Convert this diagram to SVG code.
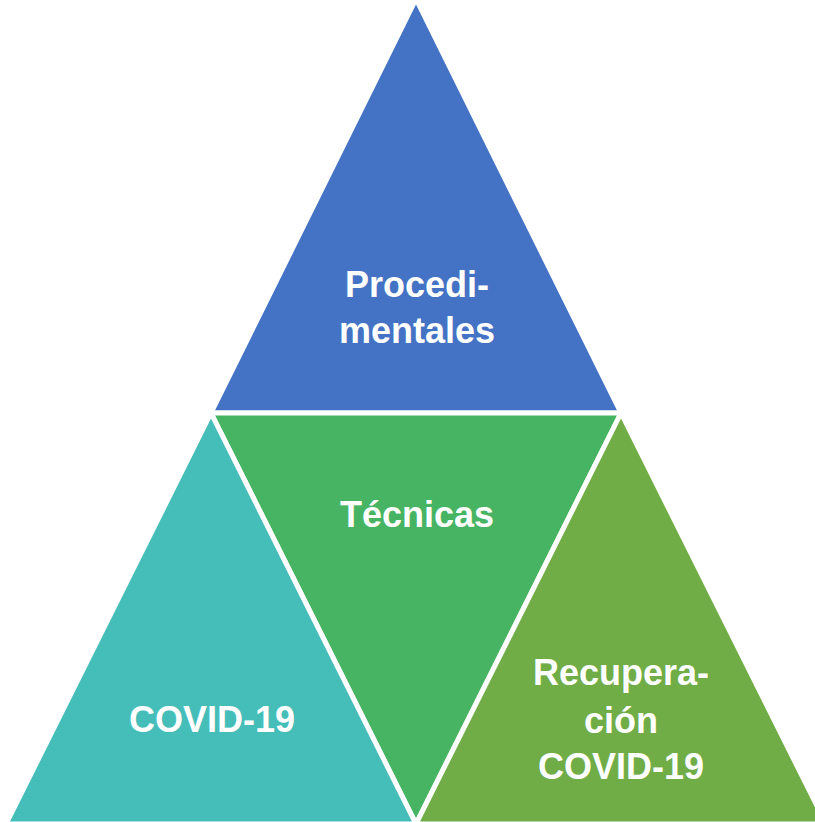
<svg xmlns="http://www.w3.org/2000/svg" width="815" height="822" viewBox="0 0 815 822">
<style>
.tri{stroke:#fff;stroke-width:5;stroke-linejoin:miter}
.lbl{font-family:"Liberation Sans",Arial,sans-serif;font-weight:bold;font-size:36px;fill:#fff;text-anchor:middle}
</style>
<rect width="815" height="822" fill="#fff"/>
<g id="top">
<polygon class="tri" fill="#4472C4" points="416,-1 211,413 621,413"/>
<text class="lbl" x="417" y="297">Procedi-</text>
<text class="lbl" x="417" y="343">mentales</text>
</g>
<g id="middle">
<polygon class="tri" fill="#47B464" points="211,413 621,413 416,824"/>
<text class="lbl" x="417" y="527">Técnicas</text>
</g>
<g id="left">
<polygon class="tri" fill="#45BDB8" points="211,413 6,824 416,824"/>
<text class="lbl" x="212" y="732">COVID-19</text>
</g>
<g id="right">
<polygon class="tri" fill="#70AD47" points="621,413 416,824 826,824"/>
<text class="lbl" x="621" y="685">Recupera-</text>
<text class="lbl" x="621" y="733">ción</text>
<text class="lbl" x="621" y="779">COVID-19</text>
</g>
<g id="connectors"/>
</svg>
